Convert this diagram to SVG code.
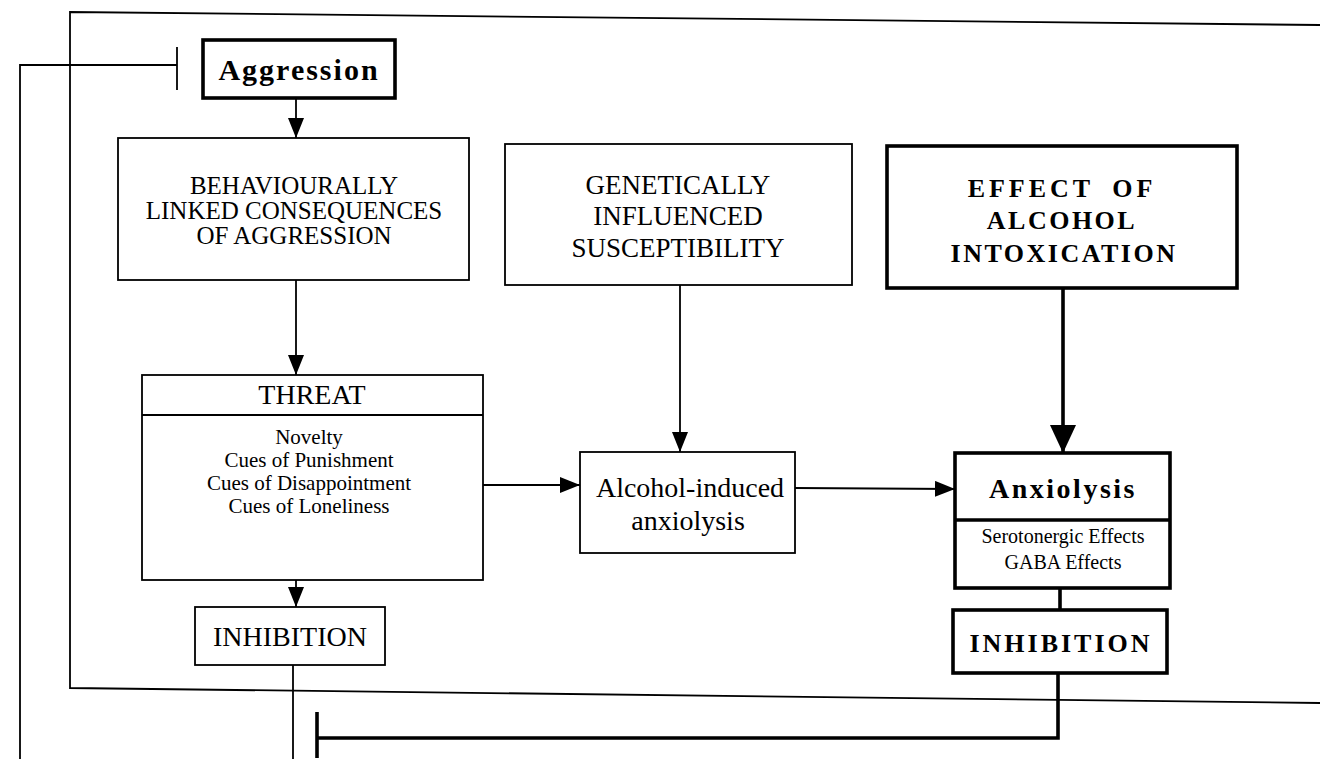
<svg xmlns="http://www.w3.org/2000/svg" width="1320" height="759" viewBox="0 0 1320 759">
<style>
.box{fill:#fff;stroke:#000;stroke-width:1.8}
.tbox{fill:#fff;stroke:#000;stroke-width:3.6}
.ln{fill:none;stroke:#000;stroke-width:1.8}
.tln{fill:none;stroke:#000;stroke-width:3.6}
text{font-family:"Liberation Serif","Times New Roman",serif;fill:#000;text-anchor:middle}
.b{font-weight:bold}
.cue{font-size:21px}
</style>
<defs>
<marker id="arr" markerUnits="userSpaceOnUse" markerWidth="20" markerHeight="16" refX="20" refY="8" orient="auto"><path d="M0,0 L20,8 L0,16 z" fill="#000"/></marker>
<marker id="big" markerUnits="userSpaceOnUse" markerWidth="28" markerHeight="26" refX="28" refY="13" orient="auto"><path d="M0,0 L28,13 L0,26 z" fill="#000"/></marker>
</defs>
<rect width="1320" height="759" fill="#fff"/>
<g id="connectors">
<polyline class="ln" points="1320,25 70,12 70,688 1320,703"/>
<polyline class="ln" points="20,759 20,65 177,65"/>
<line class="ln" x1="177" y1="47" x2="177" y2="90"/>
<line class="ln" x1="296" y1="98" x2="296" y2="138" marker-end="url(#arr)"/>
<line class="ln" x1="296" y1="280" x2="296" y2="375" marker-end="url(#arr)"/>
<line class="ln" x1="296" y1="580" x2="296" y2="607" marker-end="url(#arr)"/>
<line class="ln" x1="293" y1="665" x2="293" y2="759"/>
<line class="ln" x1="680" y1="285" x2="680" y2="452" marker-end="url(#arr)"/>
<line class="ln" x1="483" y1="485" x2="580" y2="485" marker-end="url(#arr)"/>
<line class="ln" x1="795" y1="488" x2="955" y2="489" marker-end="url(#arr)"/>
<line class="tln" x1="1063" y1="288" x2="1063" y2="453" marker-end="url(#big)"/>
<line class="tln" x1="1060" y1="588" x2="1060" y2="610"/>
<polyline class="tln" points="1058,673 1058,738 317,738"/>
<line class="tln" x1="317" y1="712" x2="317" y2="758"/>
</g>
<g id="aggression">
<rect class="tbox" x="203" y="40" width="192" height="58"/>
<text class="b" x="299" y="80" font-size="30" letter-spacing="2">Aggression</text>
</g>
<g id="behaviour">
<rect class="box" x="118" y="138" width="351" height="142"/>
<text x="294" y="194" font-size="25">BEHAVIOURALLY</text>
<text x="294" y="219" font-size="25">LINKED CONSEQUENCES</text>
<text x="294" y="244" font-size="25">OF AGGRESSION</text>
</g>
<g id="genetic">
<rect class="box" x="505" y="144" width="347" height="141"/>
<text x="678" y="194" font-size="27">GENETICALLY</text>
<text x="678" y="225" font-size="27">INFLUENCED</text>
<text x="678" y="257" font-size="27">SUSCEPTIBILITY</text>
</g>
<g id="effect">
<rect class="tbox" x="887" y="146" width="350" height="142"/>
<text class="b" x="1062" y="197" font-size="26" letter-spacing="4" word-spacing="8">EFFECT OF</text>
<text class="b" x="1062" y="229" font-size="26" letter-spacing="2.5">ALCOHOL</text>
<text class="b" x="1064" y="262" font-size="26" letter-spacing="2.5">INTOXICATION</text>
</g>
<g id="threat">
<rect class="box" x="142" y="375" width="341" height="205"/>
<line class="ln" x1="142" y1="415" x2="483" y2="415"/>
<text x="312" y="404" font-size="28">THREAT</text>
<text class="cue" x="309" y="444">Novelty</text>
<text class="cue" x="309" y="467">Cues of Punishment</text>
<text class="cue" x="309" y="490">Cues of Disappointment</text>
<text class="cue" x="309" y="513">Cues of Loneliness</text>
</g>
<g id="inhibition-left">
<rect class="box" x="195" y="607" width="190" height="58"/>
<text x="290" y="646" font-size="28">INHIBITION</text>
</g>
<g id="alcohol-induced">
<rect class="box" x="580" y="452" width="215" height="101"/>
<text x="690" y="497" font-size="28">Alcohol-induced</text>
<text x="688" y="530" font-size="28">anxiolysis</text>
</g>
<g id="anxiolysis">
<rect class="tbox" x="955" y="453" width="215" height="135"/>
<line class="tln" x1="955" y1="520" x2="1170" y2="520"/>
<text class="b" x="1063" y="498" font-size="28" letter-spacing="2.5">Anxiolysis</text>
<text x="1063" y="543" font-size="20">Serotonergic Effects</text>
<text x="1063" y="569" font-size="20">GABA Effects</text>
</g>
<g id="inhibition-right">
<rect class="tbox" x="953" y="610" width="214" height="63"/>
<text class="b" x="1061" y="652" font-size="26" letter-spacing="3">INHIBITION</text>
</g>
</svg>
